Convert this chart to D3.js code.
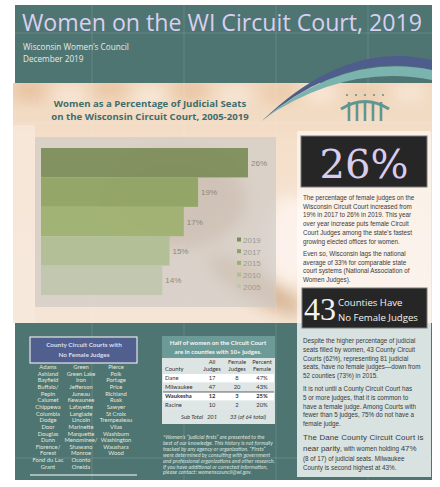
<!DOCTYPE html>
<html><head><meta charset="utf-8">
<script src="https://cdn.jsdelivr.net/npm/d3@7"></script>
<style>body{margin:0;background:#fff}svg{display:block}</style>
</head><body><svg id="c" width="440" height="487"></svg>
<script>
// ---------- data ----------
const years = ["2019","2017","2015","2010","2005"];
const pctFemale = [26,19,17,15,14];
const barColors = ["#7b8c57","#8ea35f","#9db16e","#b0be92","#c0c7ae"];
const countyCol1 = ["Adams","Ashland","Bayfield","Buffalo/","Pepin","Calumet","Chippewa","Columbia","Dodge","Door","Douglas","Dunn","Florence/","Forest","Fond du Lac","Grant"];
const countyCol2 = ["Green","Green Lake","Iron","Jefferson","Juneau","Kewaunee","Lafayette","Langlade","Lincoln","Marinette","Marquette","Menominee/","Shawano","Monroe","Oconto","Oneida"];
const countyCol3 = ["Pierce","Polk","Portage","Price","Richland","Rusk","Sawyer","St Croix","Trempealeau","Vilas","Washburn","Washington","Waushara","Wood"];
const tableCounties = ["Dane","Milwaukee","Waukesha","Racine"];
const allJudges = [17,47,12,10];
const femaleJudges = [8,20,3,2];
const percentFemale = ["47%","43%","25%","20%"];
const subTotalAll = "201";
const subTotalFemale = "33 (of 64 total)";
const para1 = ["The percentage of female judges on the","Wisconsin Circuit Court increased from","19% in 2017 to 26% in 2019.  This year","over year increase puts female Circuit","Court Judges among the state's fastest","growing elected offices for women."];
const para2 = ["Even so, Wisconsin lags the national","average of 33% for comparable state","court systems (National Association of","Women Judges)."];
const para3 = ["Despite the higher percentage of judicial","seats filled by women, 43 County Circuit","Courts (62%), representing 81 judicial","seats, have no female judges\u2014down from","52 counties (73%) in 2015."];
const para4 = ["It is not until a County Circuit Court has","5 or more judges, that it is common to","have a female judge. Among Courts with","fewer than 5 judges, 75% do not have a","female judge."];
const footnote = ["*Women's \u201cjudicial firsts\u201d are presented to the","best of our knowledge. This history is not formally","tracked by any agency or organization. \u201cFirsts\u201d","were determined by consulting with government","and professional organizations and other research.","If you have additional or corrected information,","please contact: womenscouncil@wi.gov."];

// ---------- drawing ----------
const svg = d3.select("#c");
const defs = svg.append("defs");
defs.append("filter").attr("id","blur8").attr("x","-50%").attr("y","-50%").attr("width","200%").attr("height","200%")
  .append("feGaussianBlur").attr("stdDeviation",8);
const cp = defs.append("clipPath").attr("id","photoClip");
cp.append("rect").attr("x",13).attr("y",83).attr("width",419).attr("height",240);

// header
svg.append("rect").attr("x",15).attr("y",5).attr("width",417).attr("height",79).attr("fill","#4e7572");

// photo band
const photo = svg.append("g").attr("clip-path","url(#photoClip)");
const pg = defs.append("linearGradient").attr("id","pg").attr("x1",0).attr("y1",0).attr("x2",0).attr("y2",1);
pg.append("stop").attr("offset","0").attr("stop-color","#f0d6bc");
pg.append("stop").attr("offset","0.25").attr("stop-color","#f4dfca");
pg.append("stop").attr("offset","1").attr("stop-color","#f5e5d6");
photo.append("rect").attr("x",13).attr("y",83).attr("width",419).attr("height",240).attr("fill","url(#pg)");
const bokeh = [[30,90,"#e2b48c"],[70,96,"#fbf1e5"],[110,88,"#e6bc95"],[150,96,"#fcf3e8"],[190,90,"#e4b891"],[235,95,"#fbf1e5"],[280,92,"#e8c29e"],[320,92,"#fcf2e6"],[365,96,"#eac7a5"],[410,92,"#fbf0e4"]];
photo.selectAll("ellipse.bk").data(bokeh).join("ellipse").attr("class","bk")
  .attr("cx",d=>d[0]).attr("cy",d=>d[1]).attr("rx",18).attr("ry",9).attr("fill",d=>d[2]).attr("opacity",0.7).attr("filter","url(#blur8)");
// gavel
photo.append("ellipse").attr("cx",175).attr("cy",200).attr("rx",70).attr("ry",48).attr("fill","#a8764f").attr("opacity",0.45).attr("filter","url(#blur8)");
photo.append("ellipse").attr("cx",255).attr("cy",285).attr("rx",55).attr("ry",14).attr("transform","rotate(30,255,285)").attr("fill","#b5804f").attr("opacity",0.45).attr("filter","url(#blur8)");
photo.append("ellipse").attr("cx",290).attr("cy",240).attr("rx",25).attr("ry",45).attr("fill","#fff6f2").attr("opacity",0.8).attr("filter","url(#blur8)");
photo.append("rect").attr("x",13).attr("y",125).attr("width",22).attr("height",198).attr("fill","#f6e9dc").attr("opacity",0.8);

// bottom teal
svg.append("rect").attr("x",15).attr("y",323).attr("width",417).attr("height",157).attr("fill","#4e7572");

// faint guides
[92,184,276,368].forEach(x=>svg.append("line").attr("x1",x).attr("x2",x).attr("y1",5).attr("y2",480).attr("stroke","#fff").attr("stroke-opacity",0.18).attr("stroke-width",0.7));
[33,123,458].forEach(y=>svg.append("line").attr("x1",0).attr("x2",440).attr("y1",y).attr("y2",y).attr("stroke","#fff").attr("stroke-opacity",0.18).attr("stroke-width",0.7));

// header text
svg.append("text").attr("x",22).attr("y",31).attr("textLength",400).attr("lengthAdjust","spacingAndGlyphs")
  .attr("font-family","'Open Sans',sans-serif").attr("font-size",23).attr("fill","#d9cff0")
  .text("Women on the WI Circuit Court, 2019");
svg.append("text").attr("x",23).attr("y",50).attr("font-family","'Open Sans',sans-serif").attr("font-size",8.2).attr("fill","#e4ece9").text("Wisconsin Women\u2019s Council");
svg.append("text").attr("x",23).attr("y",62).attr("font-family","'Open Sans',sans-serif").attr("font-size",8.2).attr("fill","#e4ece9").text("December 2019");

// swoosh
svg.append("path").attr("d","M262,121 Q345,40 432,60 L432,70 Q345,50 262,121 Z").attr("fill","#4f5d8c");
svg.append("path").attr("d","M262,120 Q345,52 432,70 L432,80 Q345,63 262,120 Z").attr("fill","#7bb3ae");

// logo
const logo = svg.append("g").attr("fill","#5f9692");
[347,356,365,374,383].forEach(x=>logo.append("circle").attr("cx",x).attr("cy",95).attr("r",1.1));
svg.append("path").attr("d","M341,109 Q365,94 389,109").attr("fill","none").attr("stroke","#5f9692").attr("stroke-width",3);
[349,357,365,373,381].forEach(x=>logo.append("rect").attr("x",x-1.3).attr("y",102).attr("width",2.6).attr("height",19));

// chart title
svg.append("text").attr("x",150).attr("y",107).attr("text-anchor","middle").attr("font-family","'Open Sans',sans-serif").attr("font-weight",700).attr("font-size",9.6).attr("fill","#3f6d6c").text("Women as a Percentage of Judicial Seats");
svg.append("text").attr("x",150).attr("y",120).attr("text-anchor","middle").attr("font-family","'Open Sans',sans-serif").attr("font-weight",700).attr("font-size",9.6).attr("fill","#3f6d6c").text("on the Wisconsin Circuit Court, 2005-2019");

// chart panel
svg.append("rect").attr("x",35).attr("y",137).attr("width",241).attr("height",170).attr("fill","#cfcac6").attr("opacity",0.7);
const y = d3.scaleBand().domain(years).range([148,295]).padding(0);
const x = d3.scaleLinear().domain([-3,26]).range([41,248]);
const chart = svg.append("g");
chart.selectAll("rect.bar").data(years).join("rect").attr("class","bar")
  .attr("x",x(-3)).attr("y",d=>y(d)).attr("height",y.bandwidth())
  .attr("width",(d,i)=>x(pctFemale[i])-x(-3)).attr("fill",(d,i)=>barColors[i]).attr("opacity",0.92);
chart.selectAll("text.lbl").data(years).join("text").attr("class","lbl")
  .attr("x",(d,i)=>x(pctFemale[i])+3).attr("y",d=>y(d)+y.bandwidth()/2+3)
  .attr("font-family","'Liberation Sans',Arial,sans-serif").attr("font-size",8).attr("fill","#8a8a7c")
  .text((d,i)=>pctFemale[i]+"%");
const leg = svg.append("g");
years.forEach((yr,i)=>{
  const ly = 240 + i*11.7;
  leg.append("rect").attr("x",237).attr("y",ly-2.5).attr("width",4).attr("height",4).attr("fill",barColors[i]);
  leg.append("text").attr("x",243).attr("y",ly+2.8).attr("font-family","'Liberation Sans',Arial,sans-serif").attr("font-size",8).attr("fill","#9b9b93").text(yr);
});

// right panel
svg.append("rect").attr("x",297).attr("y",131).attr("width",134).attr("height",192).attr("fill","#ffffff").attr("opacity",0.55);
svg.append("rect").attr("x",297).attr("y",323).attr("width",134).attr("height",154).attr("fill","#d7e2e1");
svg.append("rect").attr("x",301).attr("y",136).attr("width",126).attr("height",51).attr("fill","#262626").attr("stroke","#7a7a7a").attr("stroke-width",1);
svg.append("text").attr("x",364).attr("y",178).attr("text-anchor","middle").attr("font-family","'DejaVu Serif','Liberation Serif',serif").attr("font-size",40).attr("fill","#d8cdee").text("26%");
function para(lines, x0, y0, dy, size, fill){
  svg.append("g").selectAll("text").data(lines).join("text")
    .attr("x",x0).attr("y",(d,i)=>y0+i*dy)
    .attr("font-family","'Liberation Sans',Arial,sans-serif").attr("font-size",size).attr("fill",fill).text(d=>d);
}
para(para1,303,200,8.7,6.3,"#3a3a3a");
para(para2,303,256,8.5,6.3,"#3a3a3a");
svg.append("rect").attr("x",302).attr("y",288).attr("width",125).attr("height",40).attr("fill","#262626").attr("stroke","#7a7a7a").attr("stroke-width",1);
svg.append("text").attr("x",304).attr("y",320).attr("font-family","'Liberation Serif',serif").attr("font-size",32).attr("fill","#f2f2f2").text("43");
svg.append("text").attr("x",338).attr("y",306).attr("font-family","'Open Sans',sans-serif").attr("font-size",9.6).attr("fill","#f2f2f2").text("Counties Have");
svg.append("text").attr("x",338).attr("y",321).attr("font-family","'Open Sans',sans-serif").attr("font-size",9.6).attr("fill","#f2f2f2").text("No Female Judges");
para(para3,303,343,8.8,6.3,"#3a3a3a");
para(para4,303,391,8.8,6.3,"#3a3a3a");
svg.append("text").attr("x",303).attr("y",440).attr("font-family","'Liberation Sans',Arial,sans-serif").attr("font-size",7.9).attr("fill","#3a3a3a").attr("letter-spacing",0.15).text("The Dane County Circuit Court is");
const t2 = svg.append("text").attr("x",303).attr("y",451).attr("font-family","'Liberation Sans',Arial,sans-serif").attr("fill","#3a3a3a");
t2.append("tspan").attr("font-size",7.9).text("near parity,");
t2.append("tspan").attr("font-size",6.3).text(" with women holding ");
t2.append("tspan").attr("font-size",7.9).text("47%");
para(["(8 of 17) of judicial seats. Milwaukee","County is second highest at 43%."],303,461,9,6.3,"#3a3a3a");

// county box
svg.append("rect").attr("x",30).attr("y",337).attr("width",107).attr("height",26).attr("fill","#515f8e").attr("stroke","#ffffff").attr("stroke-width",1);
svg.append("text").attr("x",84).attr("y",347).attr("text-anchor","middle").attr("font-family","Lato,sans-serif").attr("font-weight",700).attr("font-size",6.4).attr("fill","#dcdcf2").text("County Circuit Courts with");
svg.append("text").attr("x",84).attr("y",357).attr("text-anchor","middle").attr("font-family","Lato,sans-serif").attr("font-weight",700).attr("font-size",6.4).attr("fill","#dcdcf2").text("No Female Judges");
[[countyCol1,48],[countyCol2,81],[countyCol3,116]].forEach(([arr,cx])=>{
  svg.append("g").selectAll("text").data(arr).join("text")
    .attr("x",cx).attr("y",(d,i)=>369+i*6.65).attr("text-anchor","middle")
    .attr("font-family","Lato,sans-serif").attr("font-size",5.8).attr("fill","#e6e8d9").text(d=>d);
});
svg.append("line").attr("x1",30).attr("x2",137).attr("y1",475).attr("y2",475).attr("stroke","#fff").attr("stroke-width",1);

// table
const tb = svg.append("g").attr("font-family","Lato,sans-serif").attr("fill","#333");
tb.append("rect").attr("x",162).attr("y",336).attr("width",113).attr("height",88).attr("fill","#dde5e4");
tb.append("rect").attr("x",162).attr("y",336).attr("width",113).attr("height",22).attr("fill","#6c9a96");
tb.append("text").attr("x",218).attr("y",345).attr("text-anchor","middle").attr("font-weight",700).attr("font-size",6.2).attr("fill","#f4f6f4").text("Half of women on the Circuit Court");
tb.append("text").attr("x",218).attr("y",354).attr("text-anchor","middle").attr("font-weight",700).attr("font-size",6.2).attr("fill","#f4f6f4").text("are in counties with 10+ judges.");
const cols = [212,237,262];
[["All","Judges"],["Female","Judges"],["Percent","Female"]].forEach((h,i)=>{
  tb.append("text").attr("x",cols[i]).attr("y",364).attr("text-anchor","middle").attr("font-size",5.8).text(h[0]);
  tb.append("text").attr("x",cols[i]).attr("y",371).attr("text-anchor","middle").attr("font-size",5.8).text(h[1]);
});
tb.append("text").attr("x",165).attr("y",371).attr("font-size",5.8).text("County");
const rowY = d3.scaleBand().domain(tableCounties).range([374,410]);
tableCounties.forEach((c,i)=>{
  const ry = rowY(c);
  tb.append("rect").attr("x",163).attr("y",ry).attr("width",111).attr("height",rowY.bandwidth()-0.6).attr("fill",i%2===0?"#ffffff":"#dfe6e5");
  const fw = c==="Waukesha"?700:400;
  tb.append("text").attr("x",165).attr("y",ry+6.4).attr("font-size",5.8).attr("font-weight",fw).text(c);
  tb.append("text").attr("x",cols[0]).attr("y",ry+6.4).attr("text-anchor","middle").attr("font-size",5.8).attr("font-weight",fw).text(allJudges[i]);
  tb.append("text").attr("x",cols[1]).attr("y",ry+6.4).attr("text-anchor","middle").attr("font-size",5.8).attr("font-weight",fw).text(femaleJudges[i]);
  tb.append("text").attr("x",cols[2]).attr("y",ry+6.4).attr("text-anchor","middle").attr("font-size",5.8).attr("font-weight",fw).text(percentFemale[i]);
});
tb.append("line").attr("x1",163).attr("x2",274).attr("y1",rowY("Waukesha")).attr("y2",rowY("Waukesha")).attr("stroke","#222").attr("stroke-width",0.7);
tb.append("text").attr("x",203).attr("y",419).attr("text-anchor","end").attr("font-style","italic").attr("font-size",5.8).text("Sub Total");
tb.append("text").attr("x",cols[0]).attr("y",419).attr("text-anchor","middle").attr("font-style","italic").attr("font-size",5.8).text(subTotalAll);
tb.append("text").attr("x",248).attr("y",419).attr("text-anchor","middle").attr("font-style","italic").attr("font-size",5.8).text(subTotalFemale);

// footnote
svg.append("g").selectAll("text").data(footnote).join("text")
  .attr("x",163).attr("y",(d,i)=>439+i*5.9)
  .attr("font-family","Lato,sans-serif").attr("font-style","italic").attr("font-size",5.4).attr("fill","#dde3df").text(d=>d);
</script></body></html>
